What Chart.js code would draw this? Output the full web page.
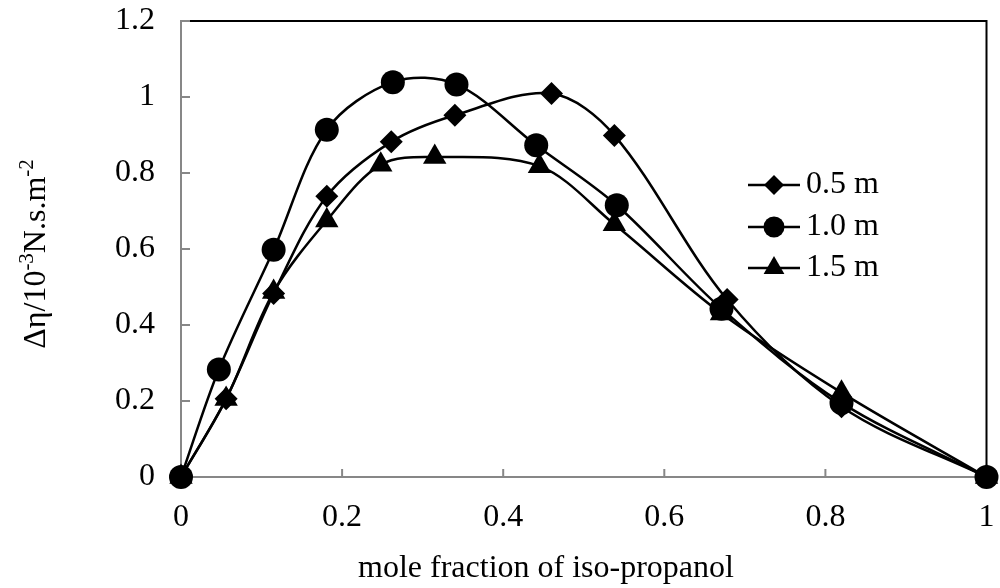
<!DOCTYPE html>
<html>
<head>
<meta charset="utf-8">
<script src="https://cdn.jsdelivr.net/npm/chart.js@4/dist/chart.umd.min.js"></script>
<style>
  html, body { margin: 0; padding: 0; background: #fff; }
</style>
</head>
<body>
<canvas id="chart" width="1000" height="588"></canvas>
<script>
// viscosity deviation vs mole fraction, three molalities
const seriesNames = ['0.5 m', '1.0 m', '1.5 m'];
const pointStyles = ['rectRot', 'circle', 'triangle'];

const x05 = [0, 0.056, 0.115, 0.181, 0.261, 0.340, 0.460, 0.538, 0.678, 0.820, 1];
const y05 = [0, 0.206, 0.483, 0.739, 0.882, 0.952, 1.009, 0.899, 0.467, 0.185, 0];

const x10 = [0, 0.047, 0.115, 0.181, 0.263, 0.342, 0.441, 0.541, 0.671, 0.820, 1];
const y10 = [0, 0.283, 0.598, 0.914, 1.039, 1.033, 0.873, 0.715, 0.443, 0.195, 0];

const x15 = [0, 0.056, 0.115, 0.181, 0.248, 0.315, 0.445, 0.538, 0.671, 0.820, 1];
const y15 = [0, 0.205, 0.487, 0.675, 0.822, 0.842, 0.818, 0.665, 0.430, 0.222, 0];

const xTicks = [0, 0.2, 0.4, 0.6, 0.8, 1];
const yTicks = [0, 0.2, 0.4, 0.6, 0.8, 1, 1.2];

const xTitle = 'mole fraction of iso-propanol';
// y title pieces, superscripts flagged
const yTitle = [
  { t: 'Δη/10' }, { t: '-3', sup: true }, { t: 'N.s.m' }, { t: '-2', sup: true }
];

const FONT = '"Liberation Serif", "Times New Roman", serif';
const FONT_SIZE = 32;
const AXIS_GREY = '#878787';
const pointRadius = [11.5, 12, 13.5];

function toPoints(xs, ys) {
  return xs.map((x, i) => ({ x: x, y: ys[i] }));
}

const seriesData = [toPoints(x05, y05), toPoints(x10, y10), toPoints(x15, y15)];

const datasets = seriesData.map((pts, i) => ({
  label: seriesNames[i],
  data: pts,
  showLine: true,
  tension: 0.33,
  borderColor: '#000',
  backgroundColor: '#000',
  borderWidth: 2.5,
  pointStyle: pointStyles[i],
  pointRadius: pointRadius[i],
  pointHoverRadius: pointRadius[i],
  pointBackgroundColor: '#000',
  pointBorderWidth: 0,
  clip: false
}));

// no extra room for label overhang, the frame is placed by layout padding
function noScalePadding(s) {
  s.paddingTop = 0;
  s.paddingBottom = 0;
  s.paddingLeft = 0;
  s.paddingRight = 0;
}

// top/right frame plus inward tick marks
const frame = {
  id: 'frame',
  beforeDatasetsDraw(chart) {
    const ctx = chart.ctx;
    const a = chart.chartArea;
    ctx.save();
    ctx.strokeStyle = '#000';
    ctx.lineWidth = 2;
    ctx.beginPath();
    ctx.moveTo(a.left, a.top);
    ctx.lineTo(a.right, a.top);
    ctx.lineTo(a.right, a.bottom);
    ctx.stroke();

    ctx.strokeStyle = AXIS_GREY;
    ctx.lineWidth = 2;
    const xs = chart.scales.x;
    xTicks.forEach(v => {
      const px = xs.getPixelForValue(v);
      ctx.beginPath();
      ctx.moveTo(px, a.bottom);
      ctx.lineTo(px, a.bottom - 8);
      ctx.stroke();
    });
    const ys = chart.scales.y;
    yTicks.forEach(v => {
      const py = ys.getPixelForValue(v);
      ctx.beginPath();
      ctx.moveTo(a.left, py);
      ctx.lineTo(a.left + 9, py);
      ctx.stroke();
    });
    ctx.restore();
  }
};

// axis titles; the y one is rotated and carries superscripts
const axisTitles = {
  id: 'axisTitles',
  afterDraw(chart) {
    const ctx = chart.ctx;
    const a = chart.chartArea;
    const big = FONT_SIZE + 'px ' + FONT;
    const small = '21px ' + FONT;
    ctx.save();
    ctx.fillStyle = '#000';

    ctx.font = big;
    ctx.textAlign = 'center';
    ctx.textBaseline = 'alphabetic';
    ctx.fillText(xTitle, 546, 577);

    let total = 0;
    yTitle.forEach(p => {
      ctx.font = p.sup ? small : big;
      p.w = ctx.measureText(p.t).width;
      total += p.w;
    });
    ctx.translate(45, (a.top + a.bottom) / 2 + 5);
    ctx.rotate(-Math.PI / 2);
    ctx.textAlign = 'left';
    let x = -total / 2;
    yTitle.forEach(p => {
      ctx.font = p.sup ? small : big;
      ctx.fillText(p.t, x, p.sup ? -12 : 0);
      x += p.w;
    });
    ctx.restore();
  }
};

// legend: short line with the marker in its middle
const lineLegend = {
  id: 'lineLegend',
  afterDraw(chart) {
    const ctx = chart.ctx;
    const rows = [185, 227, 268];
    ctx.save();
    chart.data.datasets.forEach((ds, i) => {
      const y = rows[i];
      ctx.strokeStyle = '#000';
      ctx.lineWidth = 2.5;
      ctx.beginPath();
      ctx.moveTo(748, y);
      ctx.lineTo(800, y);
      ctx.stroke();
      ctx.fillStyle = '#000';
      Chart.helpers.drawPoint(ctx, {
        pointStyle: ds.pointStyle,
        radius: ds.pointRadius - 1.5,
        rotation: 0,
        borderWidth: 0
      }, 774, y);
      ctx.fillStyle = '#000';
      ctx.font = FONT_SIZE + 'px ' + FONT;
      ctx.textAlign = 'left';
      ctx.textBaseline = 'middle';
      ctx.fillText(ds.label, 806, y);
    });
    ctx.restore();
  }
};

new Chart(document.getElementById('chart'), {
  type: 'scatter',
  data: { datasets: datasets },
  plugins: [frame, axisTitles, lineLegend],
  options: {
    responsive: false,
    animation: false,
    devicePixelRatio: 1,
    layout: { padding: { top: 21, right: 12, left: 0, bottom: 0 } },
    plugins: {
      legend: { display: false },
      tooltip: { enabled: false }
    },
    scales: {
      x: {
        type: 'linear',
        min: 0,
        max: 1,
        afterBuildTicks: s => { s.ticks = xTicks.map(v => ({ value: v })); },
        afterFit: s => { s.height = 111; noScalePadding(s); },
        grid: { drawOnChartArea: false, drawTicks: false },
        border: { color: AXIS_GREY, width: 2 },
        ticks: {
          autoSkip: false,
          maxRotation: 0,
          padding: 21,
          color: '#000',
          font: { family: FONT, size: FONT_SIZE },
          callback: v => String(v)
        }
      },
      y: {
        type: 'linear',
        min: 0,
        max: 1.2,
        afterBuildTicks: s => { s.ticks = yTicks.map(v => ({ value: v })); },
        afterFit: s => { s.width = 181; noScalePadding(s); },
        grid: { drawOnChartArea: false, drawTicks: false },
        border: { color: AXIS_GREY, width: 2 },
        ticks: {
          autoSkip: false,
          padding: 26,
          color: '#000',
          font: { family: FONT, size: FONT_SIZE },
          callback: v => String(Number(v.toFixed(1)))
        }
      }
    }
  }
});
</script>
</body>
</html>
